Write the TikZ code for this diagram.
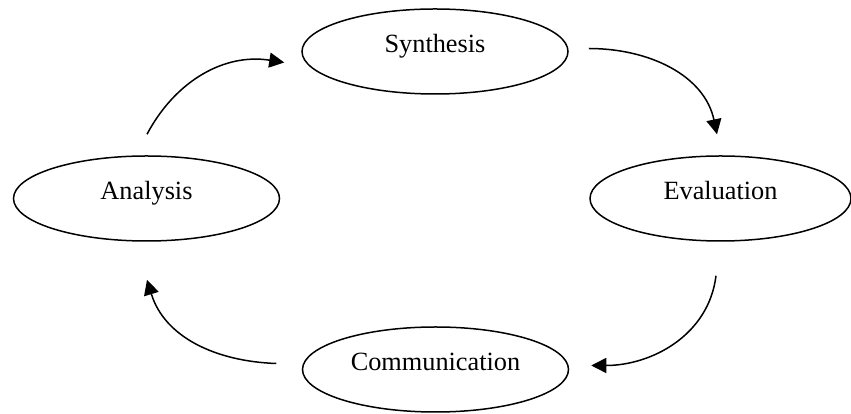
\documentclass[tikz,border=0pt]{standalone}
\usepackage{fontspec}
\setmainfont{Liberation Serif}
\usetikzlibrary{arrows.meta,shapes.geometric}
\tikzset{
  stage/.style={draw=black, line width=1.5pt, ellipse, inner sep=0pt,
    minimum width=266pt, minimum height=85pt,
    font=\fontsize{26.3}{30}\selectfont, text height=10pt, text depth=7pt},
  flow/.style={line width=1.5pt, -{Triangle[length=15pt,width=15pt]}}
}
\begin{document}
\begin{tikzpicture}[x=1pt,y=1pt]
\useasboundingbox (0,0) rectangle (851,414);
\node[stage] (syn) at (435,362.5) {Synthesis};
\node[stage] (ana) at (146.5,215.5) {Analysis};
\node[stage, minimum width=261pt] (eva) at (720.5,215.5) {Evaluation};
\node[stage] (com) at (435.5,44.5) {Communication};
% connector end points
\coordinate (a1s) at ([xshift=0.5pt,yshift=21pt]ana.north);
\coordinate (a1e) at ([xshift=-17pt,yshift=-11pt]syn.west);
\coordinate (a2s) at ([xshift=20pt,yshift=3pt]syn.east);
\coordinate (a2e) at ([xshift=-3.5pt,yshift=21pt]eva.north);
\coordinate (a3s) at ([xshift=-4.5pt,yshift=-34pt]eva.south);
\coordinate (a3e) at ([xshift=22pt,yshift=4pt]com.east);
\coordinate (a4s) at ([xshift=-25.5pt,yshift=6pt]com.west);
\coordinate (a4e) at ([xshift=0.5pt,yshift=-38pt]ana.south);
\draw[flow] (a1s) to[out=62,in=171] (a1e);
\draw[flow] (a2s) to[out=0,in=102] (a2e);
\draw[flow] (a3s) to[out=-97,in=0] (a3e);
\draw[flow] (a4s) to[out=178,in=-73] (a4e);
\end{tikzpicture}
\end{document}
